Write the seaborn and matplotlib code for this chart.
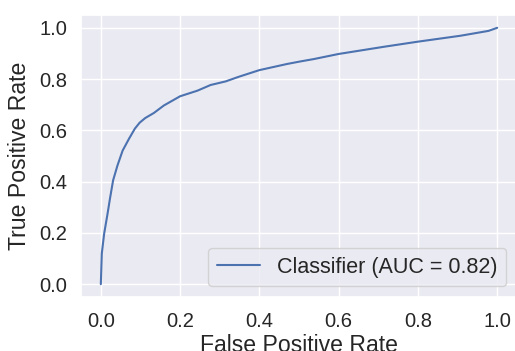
import matplotlib
matplotlib.use("Agg")
import matplotlib.pyplot as plt
import seaborn as sns
import pandas as pd

fpr = [0.0, 0.0025, 0.0084, 0.017, 0.023, 0.031, 0.042, 0.055, 0.071, 0.086,
       0.098, 0.112, 0.134, 0.159, 0.20, 0.244, 0.277, 0.315, 0.348, 0.40, 0.47,
       0.504, 0.537, 0.60, 0.714, 0.80, 0.907, 0.978, 1.0]
tpr = [0.0, 0.12, 0.197, 0.275, 0.333, 0.405, 0.463, 0.521, 0.567, 0.607,
       0.630, 0.648, 0.668, 0.697, 0.733, 0.755, 0.777, 0.791, 0.809, 0.835, 0.859,
       0.869, 0.878, 0.898, 0.926, 0.946, 0.969, 0.988, 1.0]
label = "Classifier (AUC = 0.82)"
ticks = [0.0, 0.2, 0.4, 0.6, 0.8, 1.0]

sns.set_theme(style="darkgrid")
plt.rcParams["font.family"] = ["Liberation Sans", "DejaVu Sans"]

df = pd.DataFrame({"fpr": fpr, "tpr": tpr})

fig = plt.figure(figsize=(5.15, 3.51), dpi=100)
ax = fig.add_axes([81 / 515, 54 / 351, 436 / 515, 282 / 351])
sns.lineplot(data=df, x="fpr", y="tpr", sort=False, estimator=None,
             color="#4C72B0", linewidth=1.5, label=label, ax=ax)
ax.set_xlim(-0.05, 1.05)
ax.set_ylim(-0.05, 1.05)
ax.set_xticks(ticks)
ax.set_yticks(ticks)
ax.tick_params(axis="both", labelsize=14.5, length=0)
ax.tick_params(axis="x", pad=11)
ax.tick_params(axis="y", pad=10)
ax.set_xlabel("False Positive Rate", fontsize=16.6, labelpad=2)
ax.set_ylabel("True Positive Rate", fontsize=16.6, labelpad=6)
ax.legend(loc="lower right", fontsize=15.5, handlelength=2.0)
fig.savefig("out.png", dpi=100)
